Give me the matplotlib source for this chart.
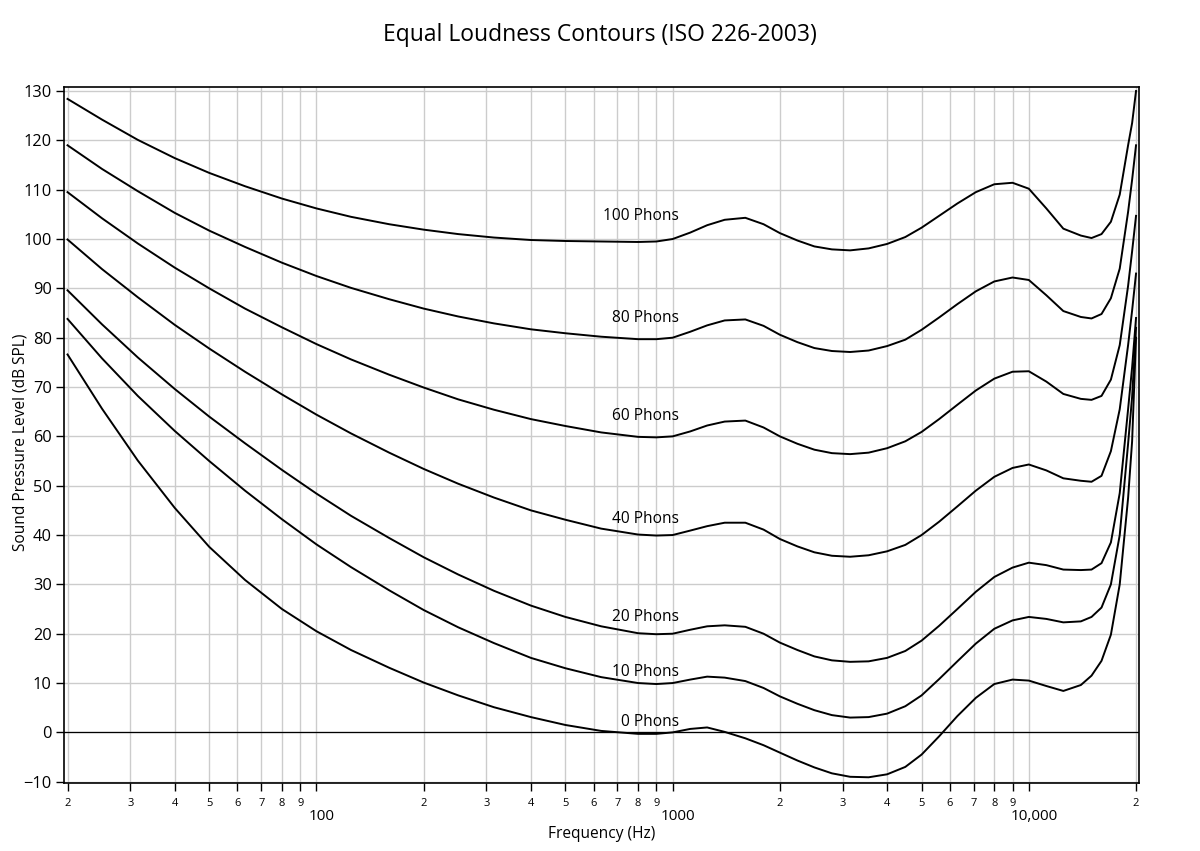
import matplotlib
matplotlib.use("Agg")
import matplotlib.pyplot as plt
import matplotlib.transforms as mtransforms

plt.rcParams["font.family"] = ["Open Sans", "DejaVu Sans"]

# ---------------------------------------------------------------
# data (Hz / dB SPL)
# ---------------------------------------------------------------
FREQ = [20, 25, 31.5, 40, 50, 63, 80, 100, 125, 160,
        200, 250, 315, 400, 500, 630, 800, 900, 1000, 1120,
        1250, 1400, 1600, 1800, 2000, 2240, 2500, 2800, 3150, 3550,
        4000, 4500, 5000, 5600, 6300, 7100, 8000, 9000, 10000, 11200,
        12500, 14000, 15000, 16000, 17000, 18000, 19000, 19500, 20000]

PHON_0 = [76.6, 65.6, 55.1, 45.5, 37.6, 30.9, 25.0, 20.5, 16.7, 13.1,
          10.1, 7.5, 5.1, 3.1, 1.5, 0.3, -0.3, -0.3, 0.0, 0.7,
          1.0, 0.1, -1.2, -2.6, -4.1, -5.7, -7.1, -8.3, -9.0, -9.1,
          -8.5, -7.0, -4.5, -0.8, 3.3, 7.0, 9.8, 10.7, 10.5, 9.4,
          8.4, 9.6, 11.5, 14.5, 19.8, 30.0, 47.5, 59.0, 80.0]
PHON_10 = [83.8, 75.8, 68.2, 61.1, 55.0, 49.0, 43.2, 38.1, 33.5, 28.8,
           24.8, 21.3, 18.1, 15.1, 13.0, 11.2, 10.0, 9.8, 10.0, 10.7,
           11.3, 11.1, 10.4, 9.0, 7.3, 5.8, 4.5, 3.5, 3.0, 3.1,
           3.8, 5.3, 7.5, 10.8, 14.4, 18.0, 21.0, 22.7, 23.4, 23.0,
           22.3, 22.5, 23.4, 25.3, 30.0, 40.0, 58.5, 68.0, 82.0]
PHON_20 = [89.6, 82.7, 76.0, 69.6, 64.0, 58.6, 53.2, 48.4, 43.9, 39.4,
           35.5, 32.0, 28.7, 25.7, 23.4, 21.5, 20.1, 19.9, 20.0, 20.8,
           21.5, 21.7, 21.4, 20.0, 18.2, 16.7, 15.4, 14.6, 14.3, 14.4,
           15.1, 16.5, 18.6, 21.6, 25.0, 28.5, 31.5, 33.4, 34.4, 33.9,
           33.0, 32.9, 33.0, 34.3, 38.5, 48.5, 65.5, 74.0, 84.0]
PHON_40 = [99.9, 93.9, 88.2, 82.6, 77.8, 73.1, 68.5, 64.4, 60.6, 56.7,
           53.4, 50.4, 47.6, 45.0, 43.1, 41.3, 40.1, 39.9, 40.0, 40.9,
           41.8, 42.5, 42.5, 41.1, 39.2, 37.7, 36.5, 35.8, 35.6, 35.9,
           36.7, 38.0, 40.0, 42.7, 45.8, 49.0, 51.8, 53.6, 54.3, 53.1,
           51.5, 51.0, 50.8, 52.0, 57.0, 65.5, 78.5, 85.5, 93.0]
PHON_60 = [109.5, 104.2, 99.1, 94.2, 90.0, 85.9, 82.1, 78.7, 75.6, 72.5,
           69.9, 67.5, 65.4, 63.5, 62.1, 60.8, 59.9, 59.8, 60.0, 61.0,
           62.2, 63.0, 63.2, 61.8, 60.0, 58.5, 57.3, 56.6, 56.4, 56.7,
           57.6, 59.0, 60.9, 63.5, 66.4, 69.3, 71.7, 73.1, 73.2, 71.1,
           68.6, 67.6, 67.4, 68.2, 71.5, 78.5, 90.5, 97.5, 104.7]
PHON_80 = [119.0, 114.2, 109.7, 105.3, 101.7, 98.4, 95.2, 92.5, 90.1, 87.8,
           85.9, 84.3, 82.9, 81.7, 80.9, 80.2, 79.7, 79.7, 80.0, 81.2,
           82.5, 83.5, 83.7, 82.4, 80.6, 79.1, 77.9, 77.3, 77.1, 77.4,
           78.3, 79.6, 81.6, 84.1, 86.8, 89.4, 91.4, 92.2, 91.7, 88.6,
           85.4, 84.2, 83.9, 84.8, 88.0, 94.0, 105.5, 112.0, 119.0]
PHON_100 = [128.4, 124.2, 120.1, 116.4, 113.4, 110.7, 108.2, 106.2, 104.5, 103.0,
            101.9, 101.0, 100.3, 99.8, 99.6, 99.5, 99.4, 99.5, 100.0, 101.3,
            102.8, 103.9, 104.3, 103.0, 101.2, 99.7, 98.5, 97.9, 97.7, 98.1,
            99.0, 100.4, 102.3, 104.7, 107.2, 109.5, 111.1, 111.4, 110.2, 106.2,
            102.1, 100.7, 100.2, 101.0, 103.5, 109.0, 119.0, 123.5, 130.0]

CURVES = [PHON_0, PHON_10, PHON_20, PHON_40, PHON_60, PHON_80, PHON_100]
LABELS = ["0 Phons", "10 Phons", "20 Phons", "40 Phons", "60 Phons",
          "80 Phons", "100 Phons"]
LABEL_DB = [2.2, 12.3, 23.4, 43.3, 64.1, 84.0, 104.7]
LABEL_F = 1040

MAJOR_TICKS = [100, 1000, 10000]
MAJOR_LABELS = ["100", "1000", "10,000"]
MINOR_TICKS = [20, 30, 40, 50, 60, 70, 80, 90,
               200, 300, 400, 500, 600, 700, 800, 900,
               2000, 3000, 4000, 5000, 6000, 7000, 8000, 9000, 20000]
MINOR_LABELS = ["2", "3", "4", "5", "6", "7", "8", "9"] * 3 + ["2"]
Y_TICKS = list(range(-10, 131, 10))

for c in CURVES:
    assert len(c) == len(FREQ)

# ---------------------------------------------------------------
# figure
# ---------------------------------------------------------------
fig = plt.figure(figsize=(12, 8.51), dpi=100)
ax = fig.add_axes([0.0536, 0.0799, 0.8952, 0.8175])

ax.set_xscale("log")
ax.set_xlim(19.59, 20330)
ax.set_ylim(-10.26, 130.75)

for vals in CURVES:
    ax.plot(FREQ, vals, color="black", lw=1.4, zorder=3,
            solid_joinstyle="round")

for lab, yv in zip(LABELS, LABEL_DB):
    ax.text(LABEL_F, yv, lab, ha="right", va="center", fontsize=11.2,
            zorder=4)

ax.axhline(0, color="black", lw=0.9, zorder=2)

# ticks
ax.set_xticks(MAJOR_TICKS)
ax.set_xticklabels(MAJOR_LABELS)
ax.set_xticks(MINOR_TICKS, minor=True)
ax.set_xticklabels(MINOR_LABELS, minor=True)
ax.set_yticks(Y_TICKS)

ax.tick_params(axis="x", which="minor", length=6, width=1, pad=5,
               labelsize=8)
ax.tick_params(axis="x", which="major", length=6, width=1, pad=13,
               labelsize=11)
ax.tick_params(axis="y", length=6, width=1, pad=3, labelsize=11.8)

shift = mtransforms.ScaledTranslation(5 / 100, 0, fig.dpi_scale_trans)
for lbl in ax.xaxis.get_majorticklabels():
    lbl.set_transform(lbl.get_transform() + shift)

ax.grid(True, which="both", axis="x", color="#cccccc", lw=1, zorder=0)
ax.grid(True, which="major", axis="y", color="#cccccc", lw=1, zorder=0)
ax.set_axisbelow(True)

for sp in ax.spines.values():
    sp.set_linewidth(1.2)

ax.set_xlabel("Frequency (Hz)", fontsize=11.2)
ax.set_ylabel("Sound Pressure Level (dB SPL)", fontsize=11.2)
ax.xaxis.set_label_coords(0.5, -0.062)
ax.yaxis.set_label_coords(-0.0338, 0.49)

fig.text(0.5, 1 - 35 / 851, "Equal Loudness Contours (ISO 226-2003)",
         ha="center", va="center", fontsize=16.5)

fig.savefig("out.png", dpi=100)
